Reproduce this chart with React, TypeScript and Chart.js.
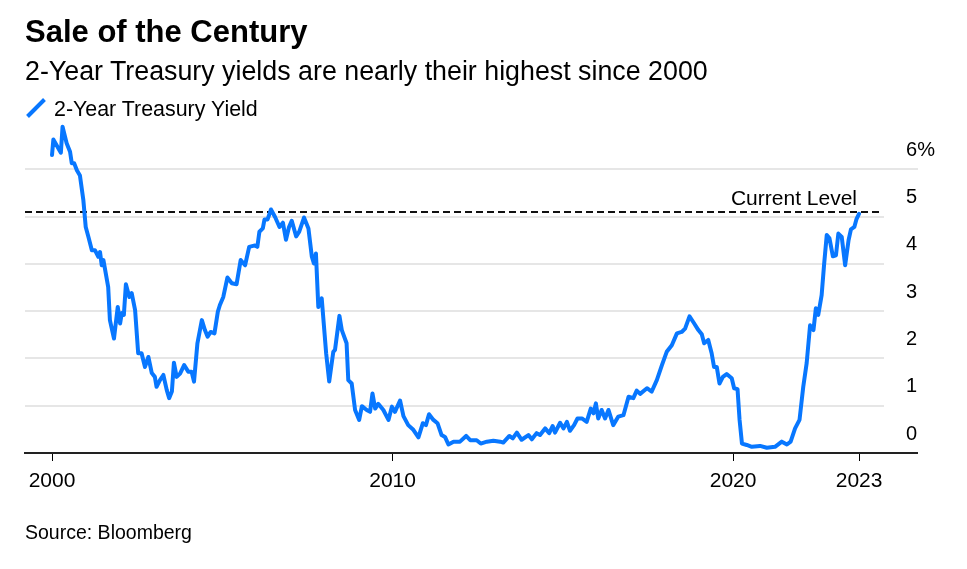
import React, { useEffect, useRef } from "react";
import { Chart, registerables } from "chart.js";

Chart.register(...registerables);

// ---- Data ----
const years = [
  2000.0, 2000.04, 2000.26, 2000.31, 2000.43, 2000.53, 2000.58, 2000.65, 2000.73, 2000.82,
  2000.92, 2000.99, 2001.07, 2001.17, 2001.26, 2001.36, 2001.41, 2001.46, 2001.51, 2001.65,
  2001.7, 2001.82, 2001.93, 2002.0, 2002.05, 2002.11, 2002.17, 2002.27, 2002.34, 2002.44,
  2002.53, 2002.63, 2002.73, 2002.83, 2002.93, 2003.02, 2003.07, 2003.17, 2003.27, 2003.37,
  2003.44, 2003.52, 2003.58, 2003.66, 2003.76, 2003.88, 2004.0, 2004.1, 2004.17, 2004.27,
  2004.4, 2004.49, 2004.57, 2004.66, 2004.77, 2004.87, 2004.93, 2005.03, 2005.15, 2005.28,
  2005.42, 2005.54, 2005.67, 2005.79, 2005.96, 2006.03, 2006.09, 2006.19, 2006.24, 2006.33,
  2006.43, 2006.55, 2006.68, 2006.78, 2006.87, 2006.96, 2007.04, 2007.17, 2007.26, 2007.4,
  2007.53, 2007.63, 2007.69, 2007.75, 2007.82, 2007.92, 2008.05, 2008.14, 2008.26, 2008.31,
  2008.44, 2008.51, 2008.65, 2008.7, 2008.8, 2008.9, 2009.02, 2009.1, 2009.24, 2009.34,
  2009.41, 2009.49, 2009.58, 2009.73, 2009.88, 2009.98, 2010.07, 2010.22, 2010.32, 2010.46,
  2010.61, 2010.76, 2010.89, 2010.98, 2011.07, 2011.2, 2011.32, 2011.44, 2011.54, 2011.64,
  2011.79, 2011.98, 2012.16, 2012.28, 2012.47, 2012.59, 2012.77, 2012.96, 2013.16, 2013.25,
  2013.43, 2013.53, 2013.65, 2013.79, 2013.99, 2014.09, 2014.23, 2014.33, 2014.48, 2014.6,
  2014.7, 2014.77, 2014.92, 2015.02, 2015.12, 2015.21, 2015.33, 2015.43, 2015.56, 2015.7,
  2015.82, 2015.9, 2015.97, 2016.04, 2016.14, 2016.24, 2016.34, 2016.48, 2016.63, 2016.78,
  2016.93, 2017.07, 2017.17, 2017.27, 2017.47, 2017.61, 2017.76, 2017.91, 2018.05, 2018.2,
  2018.35, 2018.49, 2018.59, 2018.72, 2018.83, 2018.98, 2019.08, 2019.15, 2019.27, 2019.37,
  2019.44, 2019.52, 2019.6, 2019.7, 2019.81, 2019.96, 2020.03, 2020.13, 2020.19, 2020.26,
  2020.4, 2020.55, 2020.79, 2020.99, 2021.23, 2021.43, 2021.58, 2021.69, 2021.82, 2021.95,
  2022.06, 2022.16, 2022.26, 2022.36, 2022.43, 2022.5, 2022.6, 2022.67, 2022.75, 2022.83,
  2022.93, 2023.02, 2023.09, 2023.19, 2023.29, 2023.39, 2023.46, 2023.56, 2023.62, 2023.7,
];

const yields = [
  6.3, 6.63, 6.35, 6.9, 6.55, 6.37, 6.13, 6.13, 5.98, 5.87,
  5.35, 4.78, 4.57, 4.29, 4.29, 4.15, 4.25, 3.97, 4.08, 3.51,
  2.81, 2.42, 3.09, 2.74, 2.96, 2.92, 3.57, 3.3, 3.38, 3.02,
  2.11, 2.11, 1.82, 2.03, 1.69, 1.61, 1.4, 1.54, 1.65, 1.33,
  1.16, 1.3, 1.91, 1.61, 1.68, 1.86, 1.72, 1.72, 1.51, 2.32,
  2.81, 2.6, 2.46, 2.56, 2.53, 2.99, 3.13, 3.3, 3.71, 3.59,
  3.57, 4.08, 3.97, 4.36, 4.39, 4.36, 4.68, 4.75, 4.94, 4.94,
  5.15, 4.99, 4.78, 4.87, 4.51, 4.78, 4.91, 4.58, 4.68, 4.98,
  4.75, 4.15, 4.01, 4.22, 3.09, 3.27, 2.11, 1.51, 2.14, 2.18,
  2.9, 2.6, 2.32, 1.54, 1.47, 0.91, 0.7, 0.99, 0.91, 0.87,
  1.26, 0.94, 1.04, 0.91, 0.7, 0.98, 0.87, 1.11, 0.78, 0.59,
  0.49, 0.33, 0.63, 0.59, 0.82, 0.7, 0.63, 0.38, 0.34, 0.18,
  0.24, 0.24, 0.36, 0.27, 0.27, 0.2, 0.24, 0.26, 0.24, 0.22,
  0.36, 0.31, 0.43, 0.28, 0.38, 0.29, 0.42, 0.38, 0.52, 0.42,
  0.57, 0.43, 0.64, 0.52, 0.66, 0.47, 0.59, 0.73, 0.73, 0.66,
  0.94, 0.84, 1.05, 0.73, 0.91, 0.73, 0.91, 0.59, 0.77, 0.8,
  1.19, 1.16, 1.32, 1.25, 1.37, 1.3, 1.54, 1.86, 2.14, 2.28,
  2.53, 2.56, 2.63, 2.89, 2.77, 2.6, 2.51, 2.32, 2.39, 2.11,
  1.82, 1.82, 1.47, 1.61, 1.67, 1.58, 1.37, 1.35, 0.7, 0.2,
  0.17, 0.13, 0.15, 0.11, 0.13, 0.24, 0.18, 0.24, 0.52, 0.7,
  1.4, 1.9, 2.7, 2.6, 3.06, 2.92, 3.34, 3.97, 4.61, 4.54,
  4.16, 4.18, 4.64, 4.57, 3.97, 4.5, 4.73, 4.78, 4.94, 5.06,
];

const xTickValues = [2000, 2010, 2020, 2023.7];
const xTickLabels = ["2000", "2010", "2020", "2023"];
const yTickValues = [0, 1, 2, 3, 4, 5, 6];
const currentLevel = 5.09;
const currentLevelLabel = "Current Level";
const seriesName = "2-Year Treasury Yield";
const titleText = "Sale of the Century";
const subtitleText = "2-Year Treasury yields are nearly their highest since 2000";
const sourceText = "Source: Bloomberg";

const FONT = '"Liberation Sans", Arial, Helvetica, sans-serif';
const BLUE = "#0877ff";

const decorPlugin = {
  id: "decor",
  beforeDatasetsDraw(chart: any) {
    const { ctx, chartArea, scales } = chart;
    const y = scales.y;
    ctx.save();
    ctx.strokeStyle = "#e6e6e6";
    ctx.lineWidth = 2;
    yTickValues.forEach((v) => {
      if (v === 0) return;
      const py = Math.round(y.getPixelForValue(v));
      ctx.beginPath();
      ctx.moveTo(chartArea.left, py);
      ctx.lineTo(v === 6 ? 918 : 884, py);
      ctx.stroke();
    });
    const cy = Math.round(y.getPixelForValue(currentLevel));
    ctx.strokeStyle = "#111";
    ctx.lineWidth = 2;
    ctx.setLineDash([7, 4]);
    ctx.beginPath();
    ctx.moveTo(chartArea.left, cy);
    ctx.lineTo(882, cy);
    ctx.stroke();
    ctx.setLineDash([]);
    ctx.fillStyle = "#000";
    ctx.font = `21px ${FONT}`;
    ctx.textAlign = "right";
    ctx.textBaseline = "alphabetic";
    ctx.fillText(currentLevelLabel, 857, cy - 7);
    ctx.restore();
  },
};

function YieldChart() {
  const ref = useRef<HTMLCanvasElement | null>(null);
  useEffect(() => {
    if (!ref.current) return;
    const chart = new Chart(ref.current, {
      type: "line",
      data: {
        datasets: [
          {
            label: seriesName,
            data: years.map((x, i) => ({ x, y: yields[i] })),
            borderColor: BLUE,
            borderWidth: 4,
            pointRadius: 0,
            tension: 0,
            borderJoinStyle: "round",
            borderCapStyle: "round",
            fill: false,
          },
        ],
      },
      options: {
        animation: false,
        responsive: false,
        maintainAspectRatio: false,
        events: [],
        layout: { padding: { left: 25, top: 122, right: 0, bottom: 0 } },
        plugins: {
          legend: { display: false },
          tooltip: { enabled: false },
          title: { display: false },
        },
        scales: {
          x: {
            type: "linear",
            min: 1999.207,
            max: 2025.4,
            afterFit: (s: any) => {
              s.height = 116;
            },
            afterBuildTicks: (s: any) => {
              s.ticks = xTickValues.map((v) => ({ value: v }));
            },
            ticks: {
              autoSkip: false,
              maxRotation: 0,
              minRotation: 0,
              padding: 8,
              color: "#000",
              font: { family: FONT, size: 21 },
              callback: (v: any) => {
                const i = xTickValues.indexOf(Number(v));
                return i >= 0 ? xTickLabels[i] : "";
              },
            },
            grid: {
              drawOnChartArea: false,
              drawTicks: true,
              tickLength: 8,
              color: "#000",
              lineWidth: 1,
            },
            border: { display: true, color: "#222", width: 2 },
          },
          y: {
            type: "linear",
            position: "right",
            min: 0,
            max: 7,
            afterFit: (s: any) => {
              s.width = 50;
            },
            afterBuildTicks: (s: any) => {
              s.ticks = yTickValues.map((v) => ({ value: v }));
            },
            ticks: {
              mirror: true,
              crossAlign: "far",
              padding: 18,
              labelOffset: -19,
              color: "#000",
              font: { family: FONT, size: 20 },
              callback: (v: any) => (Number(v) === 6 ? "6%" : String(v)),
            },
            grid: { display: false, drawTicks: false },
            border: { display: false },
          },
        },
      },
      plugins: [decorPlugin],
    } as any);
    return () => chart.destroy();
  }, []);
  return (
    <canvas
      ref={ref}
      width={967}
      height={569}
      style={{ position: "absolute", left: 0, top: 0, width: 967, height: 569 }}
    />
  );
}

export default function App() {
  return (
    <div
      style={{
        position: "fixed",
        left: 0,
        top: 0,
        width: 967,
        height: 569,
        background: "#fff",
        fontFamily: FONT,
        color: "#000",
        overflow: "hidden",
      }}
    >
      <YieldChart />
      <div
        style={{
          position: "absolute",
          left: 25,
          top: 16,
          fontSize: 31,
          lineHeight: "31px",
          fontWeight: 700,
          whiteSpace: "nowrap",
        }}
      >
        {titleText}
      </div>
      <div
        style={{
          position: "absolute",
          left: 25,
          top: 58,
          fontSize: 26.8,
          lineHeight: "26.8px",
          whiteSpace: "nowrap",
        }}
      >
        {subtitleText}
      </div>
      <div
        style={{
          position: "absolute",
          left: 34,
          top: 96,
          width: 4,
          height: 24,
          background: BLUE,
          transform: "rotate(45deg)",
        }}
      />
      <div
        style={{
          position: "absolute",
          left: 54,
          top: 99,
          fontSize: 21.4,
          lineHeight: "21.4px",
          whiteSpace: "nowrap",
        }}
      >
        {seriesName}
      </div>
      <div
        style={{
          position: "absolute",
          left: 25,
          top: 523,
          fontSize: 19.5,
          lineHeight: "19.5px",
          whiteSpace: "nowrap",
        }}
      >
        {sourceText}
      </div>
    </div>
  );
}
